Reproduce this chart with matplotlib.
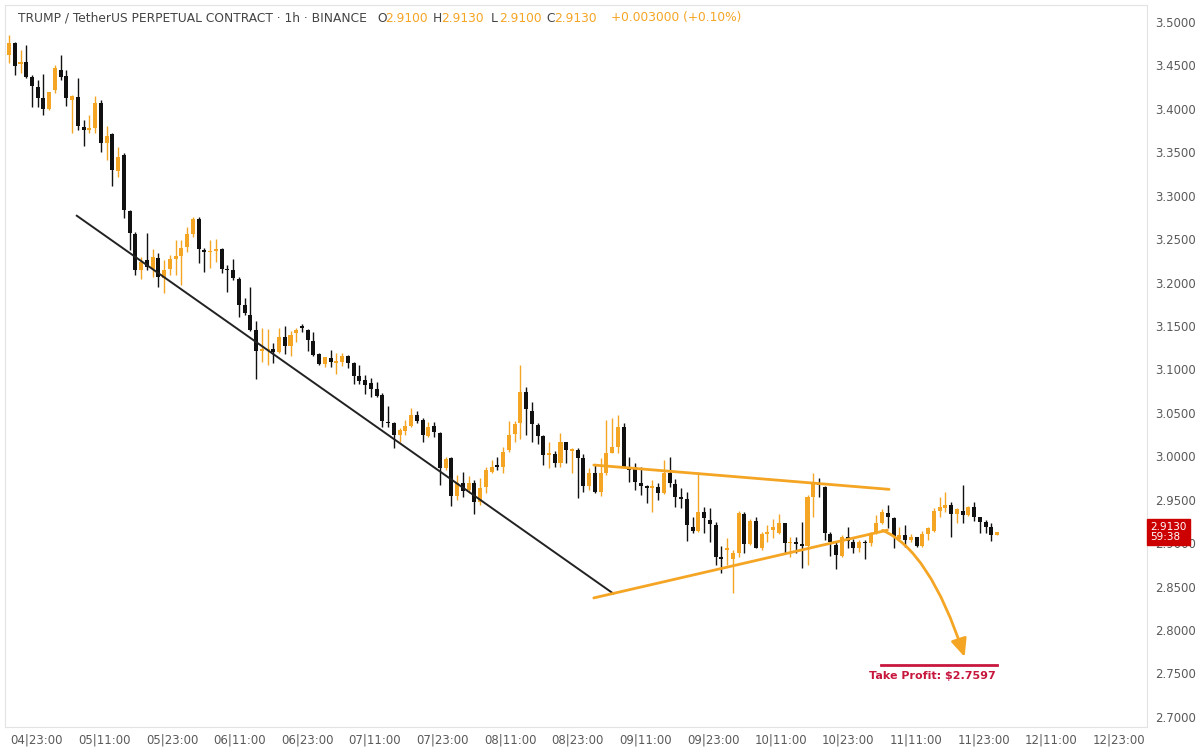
import numpy as np
import matplotlib
matplotlib.use("Agg")
import matplotlib.pyplot as plt
from matplotlib.patches import FancyArrowPatch
from matplotlib.transforms import blended_transform_factory

plt.rcParams['font.family'] = ['DejaVu Sans']

# velas de 1h, da mais antiga para a mais recente
opens = [
    3.462, 3.476, 3.452, 3.454, 3.437, 3.425, 3.412, 3.400, 3.422, 3.445,
    3.438, 3.410, 3.414, 3.379, 3.376, 3.378, 3.407, 3.361, 3.371, 3.328,
    3.347, 3.282, 3.256, 3.214, 3.226, 3.216, 3.228, 3.205, 3.216, 3.227,
    3.231, 3.241, 3.256, 3.273, 3.238, 3.235, 3.236, 3.239, 3.216, 3.214,
    3.204, 3.174, 3.163, 3.145, 3.121, 3.122, 3.124, 3.120, 3.137, 3.127,
    3.142, 3.149, 3.145, 3.133, 3.118, 3.106, 3.113, 3.108, 3.109, 3.116,
    3.108, 3.093, 3.088, 3.084, 3.078, 3.071, 3.040, 3.038, 3.025, 3.029,
    3.035, 3.048, 3.042, 3.023, 3.035, 3.027, 2.987, 2.998, 2.954, 2.969,
    2.961, 2.969, 2.947, 2.965, 2.982, 2.989, 2.988, 3.007, 3.026, 3.038,
    3.074, 3.052, 3.036, 3.023, 3.002, 3.003, 2.992, 3.016, 3.006, 3.007,
    2.998, 2.966, 2.981, 2.959, 2.981, 3.004, 3.011, 3.034, 2.988, 2.988,
    2.969, 2.966, 2.964, 2.965, 2.958, 2.981, 2.968, 2.953, 2.951, 2.919,
    2.914, 2.936, 2.927, 2.921, 2.884, 2.892, 2.882, 2.889, 2.934, 2.899,
    2.926, 2.894, 2.911, 2.915, 2.912, 2.923, 2.900, 2.901, 2.899, 2.897,
    2.953, 2.969, 2.965, 2.911, 2.898, 2.885, 2.907, 2.901, 2.894, 2.901,
    2.900, 2.912, 2.923, 2.935, 2.929, 2.905, 2.909, 2.904, 2.907, 2.897,
    2.911, 2.914, 2.937, 2.941, 2.944, 2.934, 2.937, 2.932, 2.942, 2.930,
    2.924, 2.919, 2.910,
]
highs = [
    3.485, 3.477, 3.468, 3.474, 3.439, 3.433, 3.440, 3.420, 3.450, 3.462,
    3.445, 3.416, 3.436, 3.387, 3.393, 3.415, 3.410, 3.380, 3.372, 3.356,
    3.349, 3.284, 3.258, 3.229, 3.257, 3.239, 3.234, 3.226, 3.232, 3.249,
    3.249, 3.264, 3.276, 3.276, 3.240, 3.249, 3.250, 3.240, 3.220, 3.227,
    3.206, 3.182, 3.195, 3.156, 3.148, 3.147, 3.130, 3.148, 3.150, 3.144,
    3.148, 3.152, 3.147, 3.143, 3.119, 3.114, 3.122, 3.119, 3.119, 3.117,
    3.109, 3.105, 3.094, 3.090, 3.086, 3.073, 3.058, 3.039, 3.033, 3.042,
    3.056, 3.052, 3.044, 3.040, 3.040, 3.028, 2.999, 2.999, 2.979, 2.982,
    2.977, 2.973, 2.975, 2.988, 2.996, 2.999, 3.011, 3.041, 3.041, 3.105,
    3.080, 3.063, 3.038, 3.025, 3.017, 3.006, 3.027, 3.016, 3.010, 3.010,
    3.003, 2.987, 2.990, 2.998, 3.042, 3.044, 3.048, 3.038, 2.999, 2.992,
    2.988, 2.967, 2.973, 2.969, 2.996, 2.999, 2.974, 2.964, 2.959, 2.930,
    2.982, 2.942, 2.941, 2.924, 2.897, 2.906, 2.892, 2.937, 2.936, 2.928,
    2.930, 2.913, 2.921, 2.928, 2.934, 2.923, 2.907, 2.907, 2.924, 2.956,
    2.981, 2.975, 2.966, 2.913, 2.901, 2.909, 2.919, 2.905, 2.904, 2.904,
    2.913, 2.932, 2.939, 2.944, 2.930, 2.919, 2.921, 2.911, 2.907, 2.914,
    2.919, 2.941, 2.953, 2.959, 2.947, 2.941, 2.967, 2.943, 2.947, 2.930,
    2.927, 2.923, 2.913,
]
lows = [
    3.453, 3.439, 3.441, 3.436, 3.402, 3.402, 3.393, 3.399, 3.418, 3.433,
    3.403, 3.372, 3.376, 3.357, 3.372, 3.372, 3.350, 3.341, 3.311, 3.322,
    3.274, 3.238, 3.209, 3.204, 3.214, 3.206, 3.195, 3.188, 3.209, 3.209,
    3.197, 3.235, 3.253, 3.223, 3.212, 3.217, 3.224, 3.211, 3.189, 3.203,
    3.160, 3.163, 3.144, 3.089, 3.109, 3.105, 3.108, 3.119, 3.118, 3.116,
    3.132, 3.143, 3.121, 3.116, 3.105, 3.103, 3.103, 3.095, 3.104, 3.102,
    3.083, 3.083, 3.072, 3.068, 3.068, 3.034, 3.034, 3.010, 3.016, 3.025,
    3.034, 3.038, 3.016, 3.022, 3.022, 2.967, 2.984, 2.943, 2.950, 2.953,
    2.958, 2.934, 2.944, 2.958, 2.981, 2.984, 2.981, 3.005, 3.017, 3.020,
    3.025, 3.016, 3.014, 2.990, 2.987, 2.988, 2.988, 2.992, 2.981, 2.952,
    2.959, 2.961, 2.958, 2.954, 2.979, 3.004, 3.004, 2.988, 2.970, 2.961,
    2.956, 2.946, 2.936, 2.950, 2.957, 2.965, 2.942, 2.941, 2.903, 2.912,
    2.913, 2.912, 2.901, 2.875, 2.866, 2.875, 2.843, 2.884, 2.889, 2.898,
    2.894, 2.892, 2.901, 2.906, 2.911, 2.889, 2.884, 2.889, 2.872, 2.875,
    2.930, 2.953, 2.904, 2.885, 2.870, 2.884, 2.894, 2.889, 2.890, 2.882,
    2.897, 2.911, 2.922, 2.918, 2.894, 2.903, 2.896, 2.901, 2.896, 2.896,
    2.904, 2.913, 2.930, 2.936, 2.907, 2.923, 2.923, 2.931, 2.926, 2.912,
    2.912, 2.903, 2.910,
]
closes = [
    3.476, 3.449, 3.454, 3.437, 3.426, 3.412, 3.400, 3.419, 3.447, 3.437,
    3.412, 3.415, 3.380, 3.376, 3.378, 3.407, 3.361, 3.369, 3.330, 3.345,
    3.284, 3.257, 3.214, 3.224, 3.218, 3.229, 3.206, 3.214, 3.227, 3.231,
    3.240, 3.256, 3.273, 3.239, 3.235, 3.236, 3.239, 3.216, 3.214, 3.205,
    3.174, 3.165, 3.145, 3.121, 3.124, 3.124, 3.120, 3.137, 3.127, 3.140,
    3.145, 3.148, 3.134, 3.117, 3.106, 3.114, 3.109, 3.109, 3.116, 3.108,
    3.093, 3.087, 3.082, 3.078, 3.069, 3.041, 3.038, 3.025, 3.030, 3.035,
    3.048, 3.041, 3.025, 3.034, 3.028, 2.986, 2.997, 2.954, 2.969, 2.960,
    2.969, 2.947, 2.964, 2.984, 2.988, 2.988, 3.005, 3.025, 3.037, 3.074,
    3.054, 3.037, 3.023, 3.002, 3.003, 2.992, 3.016, 3.007, 3.009, 2.998,
    2.966, 2.981, 2.959, 2.981, 3.004, 3.011, 3.034, 2.988, 2.984, 2.970,
    2.966, 2.964, 2.965, 2.958, 2.981, 2.969, 2.953, 2.951, 2.921, 2.914,
    2.936, 2.929, 2.922, 2.884, 2.882, 2.894, 2.889, 2.935, 2.899, 2.926,
    2.894, 2.911, 2.913, 2.919, 2.923, 2.900, 2.901, 2.899, 2.897, 2.953,
    2.969, 2.967, 2.912, 2.901, 2.886, 2.907, 2.903, 2.894, 2.901, 2.900,
    2.912, 2.923, 2.936, 2.930, 2.907, 2.909, 2.904, 2.907, 2.897, 2.911,
    2.918, 2.937, 2.942, 2.944, 2.934, 2.939, 2.932, 2.942, 2.930, 2.924,
    2.919, 2.910, 2.913,
]

tick_labels = ['04|23:00', '05|11:00', '05|23:00', '06|11:00', '06|23:00',
               '07|11:00', '07|23:00', '08|11:00', '08|23:00', '09|11:00',
               '09|23:00', '10|11:00', '10|23:00', '11|11:00', '11|23:00',
               '12|11:00', '12|23:00']

# linhas desenhadas a mao no grafico (indice da vela, preco)
linha_tendencia = ([11.8, 105.2], [3.277, 2.842])
triangulo_topo = ([101.8, 153.2], [2.990, 2.962])
triangulo_base = ([101.8, 152.9], [2.837, 2.915])
seta_inicio = (151.6, 2.916)
seta_fim = (166.5, 2.766)
take_profit = 2.7597
take_profit_x = (151.8, 172.0)

LARANJA = '#F5A524'
PRETO = '#111111'
VERMELHO = '#C8173D'
CINZA = '#5a5a5a'

o = np.array(opens)
h = np.array(highs)
l = np.array(lows)
c = np.array(closes)
x = np.arange(len(o))
sobe = c >= o
cores = np.where(sobe, LARANJA, PRETO)

fig = plt.figure(figsize=(12, 7.5), dpi=100)
ax = fig.add_axes([5 / 1200, 23 / 750, 1142 / 1200, 722 / 750])

ax.vlines(x, l, h, colors=cores, linewidth=1.0, zorder=2)
base = np.minimum(o, c)
altura = np.maximum(np.abs(c - o), 0.0015)
ax.bar(x, altura, bottom=base, width=0.7, color=cores, linewidth=0, zorder=3)

ax.plot(*linha_tendencia, color='#222222', linewidth=1.4, zorder=4)
ax.plot(*triangulo_topo, color=LARANJA, linewidth=2.0, solid_capstyle='round', zorder=4)
ax.plot(*triangulo_base, color=LARANJA, linewidth=2.0, solid_capstyle='round', zorder=4)

seta = FancyArrowPatch(seta_inicio, seta_fim,
                       connectionstyle='angle3,angleA=-20,angleB=108',
                       arrowstyle='-|>,head_length=0.9,head_width=0.4',
                       mutation_scale=12, color=LARANJA, linewidth=2.0, zorder=5)
ax.add_patch(seta)

ax.plot(take_profit_x, [take_profit, take_profit], color=VERMELHO, linewidth=2.0, zorder=5)
ax.text(np.mean(take_profit_x) - 1.1, take_profit - 0.0065,
        f'Take Profit: ${take_profit:.4f}', color=VERMELHO, fontsize=8,
        fontweight='bold', ha='center', va='top', zorder=5)

ax.set_xlim(-0.7, 198.1)
ax.set_ylim(2.6884, 3.5196)

ax.set_xticks(4.87 + 11.77 * np.arange(len(tick_labels)))
ax.set_xticklabels(tick_labels)
ax.set_yticks(np.arange(2.70, 3.5001, 0.05))
ax.yaxis.set_major_formatter(matplotlib.ticker.FormatStrFormatter('%.4f'))
ax.yaxis.tick_right()
ax.tick_params(axis='both', length=0, labelsize=8.5, labelcolor=CINZA)
ax.tick_params(axis='y', pad=6)
ax.tick_params(axis='x', pad=5)
for sp in ax.spines.values():
    sp.set_color('#e3e3e3')
    sp.set_linewidth(0.8)

# marcador do ultimo preco (cobre o rotulo 2.9000, como no original)
trans = blended_transform_factory(ax.transAxes, ax.transData)
ax.text(1.003, c[-1], f'{c[-1]:.4f}\n59:38', transform=trans, ha='left', va='center',
        color='white', fontsize=7.5, linespacing=1.0, clip_on=False, zorder=10,
        bbox=dict(boxstyle='square,pad=0.3', facecolor='#CC0000', edgecolor='#CC0000'))

# cabecalho
yh = 1 - 18 / 750
fig.text(18 / 1200, yh, 'TRUMP / TetherUS PERPETUAL CONTRACT · 1h · BINANCE',
         color='#444444', fontsize=8.8, va='center')
ohlc = [('O', o[-1], 377), ('H', h[-1], 433), ('L', l[-1], 491), ('C', c[-1], 546)]
for letra, valor, px in ohlc:
    fig.text(px / 1200, yh, letra, color='#444444', fontsize=8.8, va='center')
    fig.text((px + 8) / 1200, yh, f'{valor:.4f}', color=LARANJA, fontsize=8.8, va='center')
var = c[-1] - o[-1]
fig.text(611 / 1200, yh, f'+{var:.6f} (+{var / o[-1] * 100:.2f}%)',
         color=LARANJA, fontsize=8.8, va='center')

fig.savefig('out.png', dpi=100)
